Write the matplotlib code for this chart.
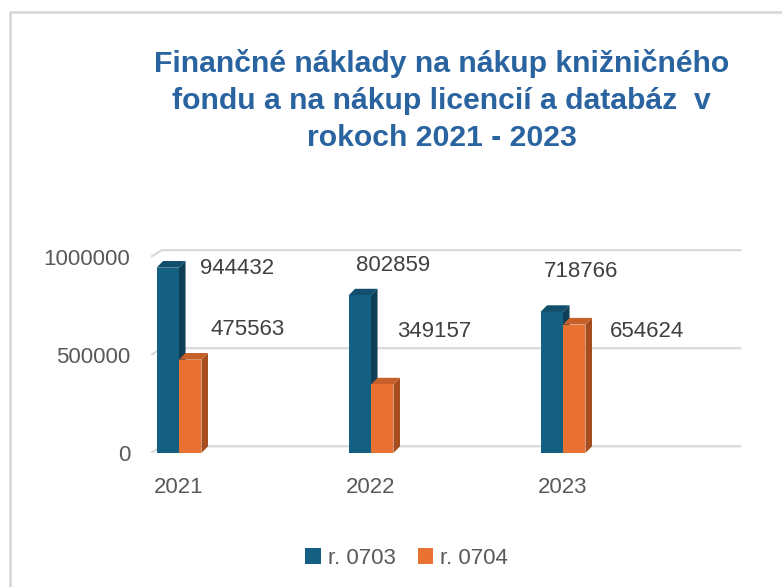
import numpy as np
import matplotlib
matplotlib.use("Agg")
import matplotlib.pyplot as plt
from matplotlib.patches import Polygon, Rectangle
from matplotlib.lines import Line2D

plt.rcParams['font.family'] = ['Liberation Sans', 'DejaVu Sans']

years = ["2021", "2022", "2023"]
series = ["r. 0703", "r. 0704"]
r0703 = [944432, 802859, 718766]
r0704 = [475563, 349157, 654624]
yticks = [0, 500000, 1000000]

title = "Finančné náklady na nákup knižničného\nfondu a na nákup licencií a databáz  v\nrokoch 2021 - 2023"

# colours: front, side, top
colors = [("#156082", "#0e3e55", "#114f6c"),
          ("#e97132", "#a64d1f", "#c65f28")]
# label offsets (pixels) from the top of each bar
offsets = [[(32, -1), (-3.5, 30), (-8, 40)],
           [(20.5, 30), (14.5, 53), (35.5, -7)]]

w = 0.117     # bar width
dx = 0.034    # depth in x (data units)
dy = 34000    # depth in y (data units)

fig = plt.figure(figsize=(7.82, 5.87), dpi=100)
ax = fig.add_axes([0.1896, 0.2283, 0.7587, 0.3543])
ax.set_xlim(-0.16, 2.93)
ax.set_ylim(0, 1060000)
ax.set_axis_off()

# back wall grid lines with small floor / side diagonal
for v in yticks:
    ax.plot([-0.145, -0.09, 2.93], [v, v + dy, v + dy], color="#d9d9d9",
            lw=1.6, solid_capstyle="butt", zorder=1)

x = np.arange(len(years))
for i, vals in enumerate([r0703, r0704]):
    front, side, top = colors[i]
    for j, v in enumerate(vals):
        x0 = x[j] - w + i * w
        ax.add_patch(Polygon([(x0 + w, 0), (x0 + w + dx, dy), (x0 + w + dx, v + dy), (x0 + w, v)],
                             closed=True, facecolor=side, edgecolor="none", zorder=3))
        ax.add_patch(Polygon([(x0, v), (x0 + dx, v + dy), (x0 + w + dx, v + dy), (x0 + w, v)],
                             closed=True, facecolor=top, edgecolor="none", zorder=3))
        ax.bar(x0, v, w, align="edge", color=front, zorder=3)
        ox, oy = offsets[i][j]
        ax.annotate(str(v), (x0 + w / 2, v), xytext=(ox, oy), textcoords="offset pixels",
                    ha="left", va="center", fontsize=16, color="#404040", zorder=5)

# axis labels
for v in yticks:
    ax.annotate(str(v), (-0.16, v), xytext=(-18, -3), textcoords="offset pixels",
                ha="right", va="center", fontsize=16, color="#595959")
for j, yr in enumerate(years):
    ax.annotate(yr, (x[j], 0), xytext=(0, -35), textcoords="offset pixels",
                ha="center", va="center", fontsize=16, color="#595959")

fig.text(0.565, 0.829, title, ha="center", va="center", fontsize=21.7,
         fontweight="bold", color="#2a64a0", linespacing=1.42)

handles = [Rectangle((0, 0), 1, 1, facecolor=c[0]) for c in colors]
fig.legend(handles, series, loc="center", bbox_to_anchor=(0.52, 0.049), ncol=2,
           frameon=False, fontsize=16, handlelength=0.7, handleheight=0.7,
           handletextpad=0.3, columnspacing=1.0, labelcolor="#595959")

# chart border
fig.add_artist(Line2D([0.0125, 0.0125, 1.0], [0.0, 0.979, 0.979], transform=fig.transFigure,
                      color="#d9d9d9", lw=2))

plt.savefig("out.png", dpi=100)
